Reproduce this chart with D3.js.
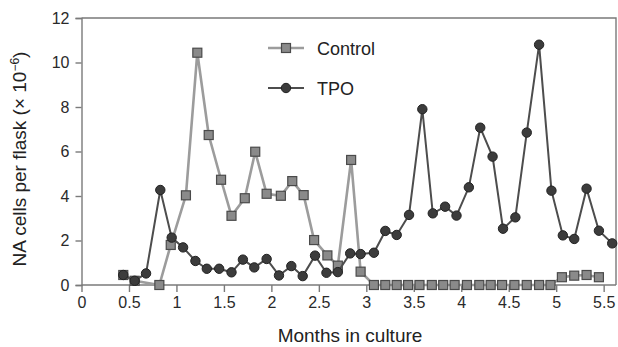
<!DOCTYPE html>
<html>
<head>
<meta charset="utf-8">
<script src="https://cdn.jsdelivr.net/npm/d3@7"></script>
<style>
  html, body { margin: 0; padding: 0; background: #fff; }
  svg { display: block; font-family: "Liberation Sans", Arial, sans-serif; }
</style>
</head>
<body>
<svg id="chart" width="618" height="347"></svg>
<script>
// ---- data ----
const controlMonths = [0.44, 0.56, 0.82, 0.94, 1.10, 1.22, 1.34, 1.47, 1.58, 1.72, 1.83, 1.95, 2.10, 2.22, 2.34, 2.45, 2.59, 2.70, 2.84, 2.94,
  3.08, 3.20, 3.32, 3.44, 3.56, 3.69, 3.81, 3.93, 4.06, 4.19, 4.31, 4.43, 4.56, 4.69, 4.82, 4.94,
  5.06, 5.19, 5.32, 5.45];
const controlValues = [0.45, 0.19, 0.0, 1.8, 4.03, 10.44, 6.74, 4.73, 3.11, 3.9, 5.99, 4.10, 4.01, 4.67, 4.04, 2.02, 1.33, 0.87, 5.62, 0.6,
  0, 0, 0, 0, 0, 0, 0, 0, 0, 0, 0, 0, 0, 0, 0, 0,
  0.35, 0.42, 0.45, 0.35];
const tpoMonths = [0.44, 0.56, 0.68, 0.83, 0.95, 1.07, 1.20, 1.32, 1.45, 1.58, 1.70, 1.82, 1.95, 2.08, 2.21, 2.33, 2.46, 2.58, 2.70, 2.83, 2.94,
  3.08, 3.20, 3.32, 3.45, 3.59, 3.70, 3.83, 3.95, 4.08, 4.20, 4.33, 4.44, 4.57, 4.69, 4.82, 4.95, 5.07, 5.19, 5.32, 5.45, 5.59];
const tpoValues = [0.45, 0.19, 0.52, 4.27, 2.13, 1.69, 1.08, 0.73, 0.73, 0.57, 1.14, 0.79, 1.17, 0.43, 0.85, 0.40, 1.32, 0.55, 0.58, 1.42, 1.39,
  1.45, 2.43, 2.25, 3.15, 7.9, 3.22, 3.52, 3.12, 4.39, 7.07, 5.77, 2.53, 3.04, 6.85, 10.8, 4.24, 2.23, 2.07, 4.33, 2.44, 1.87];
const xTicks = [0, 0.5, 1, 1.5, 2, 2.5, 3, 3.5, 4, 4.5, 5, 5.5];
const yTicks = [0, 2, 4, 6, 8, 10, 12];
const seriesNames = ["Control", "TPO"];
const xTitle = "Months in culture";
const yTitle = "NA cells per flask (× 10";
const yTitleSup = "−6";

// ---- layout ----
const svg = d3.select("#chart");
const L = 81.5, R = 616, T = 18, B = 285;
const x = d3.scaleLinear().domain([0, 5.63]).range([L, R]);
const y = d3.scaleLinear().domain([0, 12]).range([B, T]);
const axisColor = "#7a7a7a";

// frame (top and right)
svg.append("path")
  .attr("d", `M${L},${T}H${R}V${B}`)
  .attr("fill", "none").attr("stroke", axisColor).attr("stroke-width", 1.4);

// y axis
const yAxis = svg.append("g").attr("transform", `translate(${L},0)`)
  .call(d3.axisLeft(y).tickValues(yTicks).tickSize(6).tickPadding(6).tickFormat(d3.format("d")));
// x axis
const xAxis = svg.append("g").attr("transform", `translate(0,${B})`)
  .call(d3.axisBottom(x).tickValues(xTicks).tickSize(7).tickPadding(5).tickFormat(d => d3.format("")(d)));
[yAxis, xAxis].forEach(g => {
  g.select(".domain").attr("stroke", axisColor).attr("stroke-width", 1.4);
  g.selectAll(".tick line").attr("stroke", axisColor).attr("stroke-width", 1.4);
  g.selectAll(".tick text").attr("fill", "#2a2a2a").style("font-size", "16px")
    .style("font-family", "'Liberation Sans', Arial, sans-serif");
});
xAxis.select(".domain").attr("d", `M${L},0H${R}`);

// axis titles
svg.append("text").attr("x", 350).attr("y", 342).attr("text-anchor", "middle")
  .attr("fill", "#222").style("font-size", "19px").text(xTitle);
const yt = svg.append("text")
  .attr("transform", `translate(26,159) rotate(-90)`)
  .attr("text-anchor", "middle").attr("fill", "#222").style("font-size", "19px");
yt.append("tspan").text(yTitle);
yt.append("tspan").attr("dy", -7).style("font-size", "12px").text(yTitleSup);
yt.append("tspan").attr("dy", 7).text(")");

// series data
const control = controlMonths.map((m, i) => ({ m, v: controlValues[i] }));
const tpo = tpoMonths.map((m, i) => ({ m, v: tpoValues[i] }));
const line = d3.line().x(d => x(d.m)).y(d => y(d.v));

const ctrlStyle = { line: "#9c9c9c", lw: 2.6, fill: "#8a8a8a", stroke: "#4a4a4a" };
const tpoStyle = { line: "#4d4d4d", lw: 2, fill: "#3c3c3c", stroke: "#222" };
const sq = 9, cr = 4.7;

// Control
svg.append("path").datum(control).attr("d", line)
  .attr("fill", "none").attr("stroke", ctrlStyle.line).attr("stroke-width", ctrlStyle.lw);
svg.append("g").selectAll("rect").data(control).join("rect")
  .attr("x", d => x(d.m) - sq / 2).attr("y", d => y(d.v) - sq / 2)
  .attr("width", sq).attr("height", sq)
  .attr("fill", ctrlStyle.fill).attr("stroke", ctrlStyle.stroke).attr("stroke-width", 1.2);

// TPO
svg.append("path").datum(tpo).attr("d", line)
  .attr("fill", "none").attr("stroke", tpoStyle.line).attr("stroke-width", tpoStyle.lw);
svg.append("g").selectAll("circle").data(tpo).join("circle")
  .attr("cx", d => x(d.m)).attr("cy", d => y(d.v)).attr("r", cr)
  .attr("fill", tpoStyle.fill).attr("stroke", tpoStyle.stroke).attr("stroke-width", 1);

// legend
const lg = svg.append("g");
const legendRows = [
  { name: seriesNames[0], yy: 48, s: ctrlStyle, shape: "square" },
  { name: seriesNames[1], yy: 88, s: tpoStyle, shape: "circle" }
];
legendRows.forEach(r => {
  lg.append("line").attr("x1", 268).attr("x2", 304).attr("y1", r.yy).attr("y2", r.yy)
    .attr("stroke", r.s.line).attr("stroke-width", r.s.lw);
  if (r.shape === "square") {
    lg.append("rect").attr("x", 286 - sq / 2).attr("y", r.yy - sq / 2).attr("width", sq).attr("height", sq)
      .attr("fill", r.s.fill).attr("stroke", r.s.stroke).attr("stroke-width", 1.2);
  } else {
    lg.append("circle").attr("cx", 286).attr("cy", r.yy).attr("r", cr)
      .attr("fill", r.s.fill).attr("stroke", r.s.stroke);
  }
  lg.append("text").attr("x", 317).attr("y", r.yy + 6.5).attr("fill", "#222")
    .style("font-size", "18px").text(r.name);
});
</script>
</body>
</html>
